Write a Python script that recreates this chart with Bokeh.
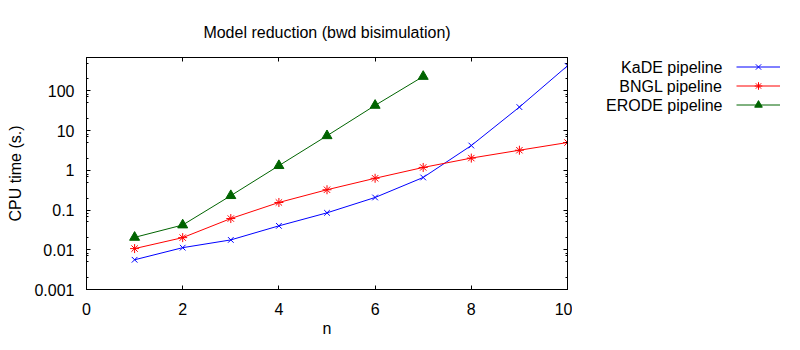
from bokeh.plotting import figure
from bokeh.layouts import row
from bokeh.models import (Range1d, LogAxis, LinearAxis, FixedTicker, Legend,
                          LegendItem, Label, CustomJSTickFormatter)
from bokeh.embed import file_html
from bokeh.resources import INLINE

# ---- data ----
n_kade = [1, 2, 3, 4, 5, 6, 7, 8, 9, 10]
t_kade = [0.0056, 0.0113, 0.0177, 0.040, 0.085, 0.207, 0.66, 4.2, 39, 427]
n_bngl = [1, 2, 3, 4, 5, 6, 7, 8, 9, 10]
t_bngl = [0.0107, 0.0202, 0.061, 0.155, 0.324, 0.63, 1.18, 2.03, 3.2, 5.0]
n_erode = [1, 2, 3, 4, 5, 6, 7]
t_erode = [0.0205, 0.042, 0.23, 1.31, 7.4, 43, 230]

series_names = ["KaDE pipeline", "BNGL pipeline", "ERODE pipeline"]
series_colors = ["#0000ff", "#ff0000", "#006400"]
series_markers = ["x", "asterisk", "triangle"]
y_ticks = [0.001, 0.01, 0.1, 1, 10, 100]
y_tick_labels = ["0.001", "0.01", "0.1", "1", "10", "100"]
x_ticks = [0, 2, 4, 6, 8, 10]

FONT = "Liberation Sans"
FS = "16px"
MSIZE = {"x": 8, "asterisk": 9, "triangle": 10}

p = figure(width=572, height=350, output_backend="svg", toolbar_location=None,
           x_range=Range1d(0, 10), y_range=Range1d(0.001, 690),
           y_axis_type="log", min_border_left=86, min_border_right=5,
           min_border_top=57, min_border_bottom=61,
           title="Model reduction (bwd bisimulation)")
p.background_fill_color = "white"
p.border_fill_color = "white"
p.outline_line_color = "black"
p.outline_line_width = 1
p.grid.visible = False

p.title.text_font = FONT
p.title.text_font_size = FS
p.title.text_font_style = "normal"
p.title.align = "center"
p.title.text_color = "black"
p.title.standoff = 33

minor_y = [k * 10.0 ** e for e in range(-3, 3) for k in (2, 5, 7, 8)]
yt = FixedTicker(ticks=y_ticks, minor_ticks=minor_y)
xt = FixedTicker(ticks=x_ticks, minor_ticks=[])


def style_axis(ax):
    ax.axis_line_color = "black"
    ax.major_tick_in = 4
    ax.major_tick_out = 0
    ax.minor_tick_in = 2
    ax.minor_tick_out = 0
    ax.major_tick_line_color = "black"
    ax.minor_tick_line_color = "black"
    ax.major_label_text_font = FONT
    ax.major_label_text_font_size = FS
    ax.major_label_text_color = "black"
    ax.axis_label_text_font = FONT
    ax.axis_label_text_font_size = FS
    ax.axis_label_text_font_style = "normal"
    ax.axis_label_text_color = "black"


xa = p.xaxis[0]
xa.ticker = xt
xa.axis_label = "n"
xa.major_label_standoff = 13
xa.axis_label_standoff = 2
style_axis(xa)

ya = p.yaxis[0]
ya.ticker = yt
ya.major_label_overrides = {t: l for t, l in zip(y_ticks, y_tick_labels)}
ya.axis_label = "CPU time (s.)"
ya.major_label_standoff = 12
ya.axis_label_standoff = 7
style_axis(ya)

blank = CustomJSTickFormatter(code="return '';")
top = LinearAxis(ticker=xt, formatter=blank, major_label_standoff=0)
style_axis(top)
p.add_layout(top, "above")
right = LogAxis(ticker=yt, formatter=blank, major_label_standoff=0)
style_axis(right)
p.add_layout(right, "right")

series = [(n_kade, t_kade), (n_bngl, t_bngl), (n_erode, t_erode)]
for (xs, ys), col, mk in zip(series, series_colors, series_markers):
    p.line(xs, ys, line_color=col, line_width=1)
    p.scatter(xs, ys, marker=mk, size=MSIZE[mk], line_color=col, fill_color=col)

# ---- key panel (gnuplot style: text right-aligned, sample to the right) ----
# Its frame is aligned with the main plot's frame (canvas y 57..289).
# The key's renderers carry the same series, but its ranges keep them out of view;
# they only supply the legend samples.
q = figure(width=228, height=350, output_backend="svg", toolbar_location=None,
           x_axis_type=None, y_axis_type=None, min_border=0,
           x_range=Range1d(100, 101), y_range=Range1d(1000, 1001))
q.outline_line_color = None
q.grid.visible = False
q.background_fill_color = "white"
q.border_fill_color = "white"

items = []
for i, ((xs, ys), name, col, mk) in enumerate(zip(series, series_names,
                                                   series_colors, series_markers)):
    kl = q.line(xs, ys, line_color=col, line_width=1)
    ks = q.scatter(xs, ys, marker=mk, size=MSIZE[mk], line_color=col, fill_color=col)
    items.append(LegendItem(label=" ", renderers=[kl, ks]))
    q.add_layout(Label(x=150, y=222.3 - 19.3 * i, x_units="screen", y_units="screen",
                       text=name, text_align="right", text_baseline="middle",
                       text_font=FONT, text_font_size=FS, text_color="black"))

key = Legend(items=items, location=(164, 175), glyph_width=44, glyph_height=19,
             label_height=19, spacing=0, padding=0, margin=0,
             label_text_font_size="10px", label_standoff=0,
             border_line_color=None, background_fill_alpha=0)
q.add_layout(key, "center")

open("out.html", "w").write(file_html(row(p, q), INLINE))
